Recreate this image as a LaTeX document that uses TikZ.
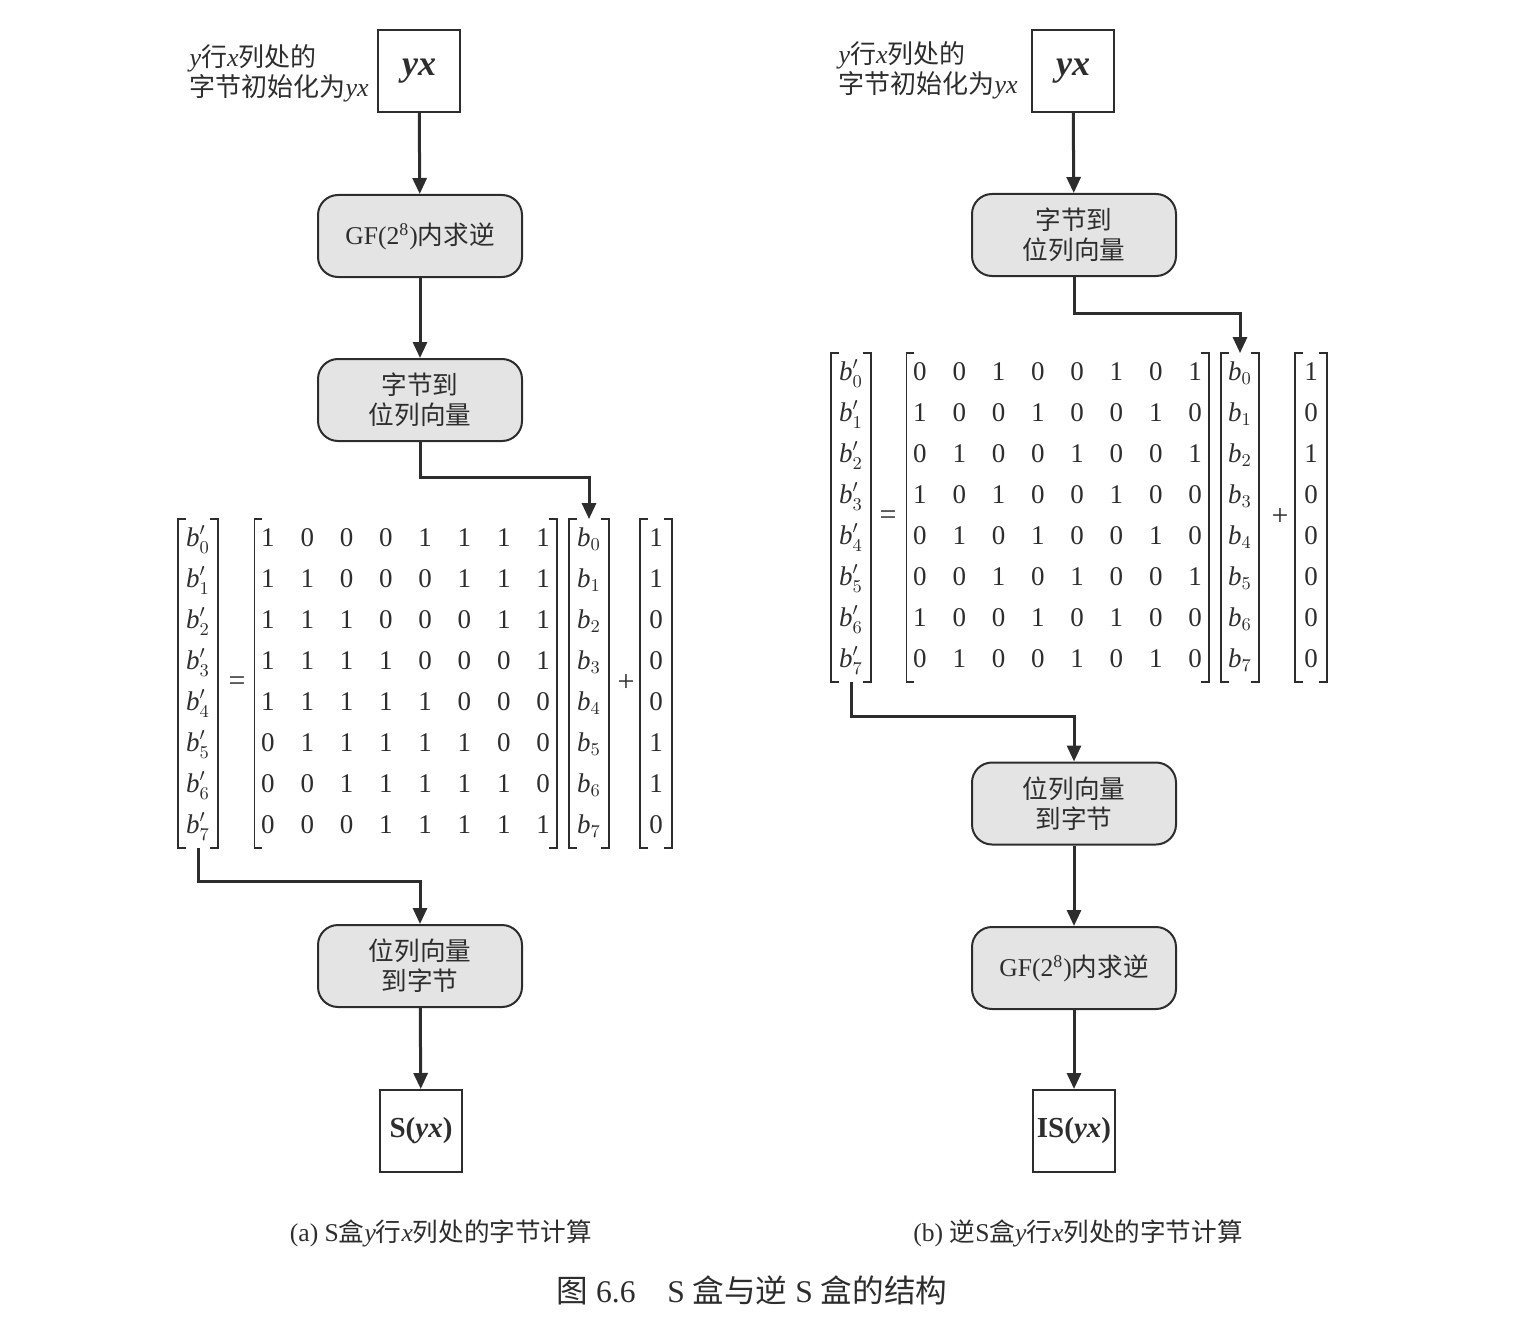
\documentclass[tikz,border=0pt]{standalone}
\usepackage{fontspec}
\setmainfont{Liberation Serif}
\newfontfamily\cjk{Noto Sans CJK SC}
\usetikzlibrary{arrows.meta,matrix,calc}
\definecolor{ink}{RGB}{45,45,45}
\definecolor{boxfill}{RGB}{228,228,228}
\newcommand\ck[1]{{\cjk #1}}
\newcommand\bpr[1]{\textit{b}$'_{#1}$}
\newcommand\bvc[1]{\textit{b}$_{#1}$}
\newcommand\brk[2]{%
  \draw[brl] ([xshift=#2+4pt]#1.north west) -- ([xshift=#2]#1.north west) -- ([xshift=#2]#1.south west) -- ([xshift=#2+4pt]#1.south west);
  \draw[brl] ([xshift=-#2-4pt]#1.north east) -- ([xshift=-#2]#1.north east) -- ([xshift=-#2]#1.south east) -- ([xshift=-#2-4pt]#1.south east);}
\begin{document}
\begin{tikzpicture}[x=0.5pt,y=-0.5pt,
  every node/.append style={text=ink},
  proc/.style={draw=ink, line width=1pt, fill=boxfill, rounded corners=10pt, minimum width=102pt, minimum height=41pt, align=center, font=\fontsize{12.8}{15}\selectfont},
  sqbox/.style={draw=ink, line width=1pt, minimum width=41pt, minimum height=41pt, inner sep=0pt},
  arr/.style={draw=ink, line width=1.5pt, -{Triangle[width=7pt,length=8pt]}},
  brl/.style={draw=ink, line width=0.8pt},
  mat/.style={matrix of nodes, inner sep=0pt, nodes={inner sep=0pt, text height=9pt, text depth=3pt, minimum height=20.5pt, minimum width=19.65pt, anchor=center, font=\fontsize{13.5}{15}\selectfont}},
  lbl/.style={align=left, inner sep=0pt, font=\fontsize{13}{15}\selectfont},
  captxt/.style={inner sep=0pt, font=\fontsize{12.8}{15}\selectfont},
  optxt/.style={inner sep=0pt, font=\fontsize{15}{15}\selectfont}]
\useasboundingbox (0,0) rectangle (1524,1316);

% ---------------- left panel ----------------
\node[sqbox, font=\fontsize{18}{18}\selectfont\bfseries\itshape] (yxL) at (419,71) {yx};
\node[lbl, anchor=east] (labL) at (369,73) {\textit{y}\ck{行}\textit{x}\ck{列处的}\\\ck{字节初始化为}\textit{yx}};
\node[proc] (gfL) at (420,236) {GF(2\textsuperscript{8})\ck{内求逆}};
\node[proc] (b2bL) at (420,400) {\ck{字节到}\\\ck{位列向量}};

\matrix (bpL) [mat] at (198,683.5) {
 \bpr0\\ \bpr1\\ \bpr2\\ \bpr3\\ \bpr4\\ \bpr5\\ \bpr6\\ \bpr7\\};
\node[optxt] (eqL) at (237,683.5) {=};
\matrix (AL) [mat] at (405.5,683.5) {
1&0&0&0&1&1&1&1\\
1&1&0&0&0&1&1&1\\
1&1&1&0&0&0&1&1\\
1&1&1&1&0&0&0&1\\
1&1&1&1&1&0&0&0\\
0&1&1&1&1&1&0&0\\
0&0&1&1&1&1&1&0\\
0&0&0&1&1&1&1&1\\};
\matrix (bL) [mat] at (589,683.5) {
 \bvc0\\ \bvc1\\ \bvc2\\ \bvc3\\ \bvc4\\ \bvc5\\ \bvc6\\ \bvc7\\};
\node[optxt] (plL) at (626,683.5) {+};
\matrix (cL) [mat] at (656,683.5) {
1\\1\\0\\0\\0\\1\\1\\0\\};
\brk{bpL}{0pt}
\brk{AL}{3.2pt}
\brk{bL}{0pt}
\brk{cL}{2pt}

\node[proc] (bt2L) at (420,966) {\ck{位列向量}\\\ck{到字节}};
\node[sqbox, font=\fontsize{14.5}{14.5}\selectfont\bfseries] (sL) at (421,1131) {S(\textit{yx})};

\draw[arr] (yxL) -- (gfL);
\draw[arr] (gfL) -- (b2bL);
\draw[arr] (b2bL.south) -- ++(0,35) -| (bL.north);
\draw[arr] (bpL.south) -- ++(0,34) -| (bt2L.north);
\draw[arr] (bt2L) -- (sL);

\node[captxt] (capA) at (441,1233) {(a) S\ck{盒}\textit{y}\ck{行}\textit{x}\ck{列处的字节计算}};

% ---------------- right panel ----------------
\node[sqbox, font=\fontsize{18}{18}\selectfont\bfseries\itshape] (yxR) at (1073,71) {yx};
\node[lbl, anchor=east] (labR) at (1018,70) {\textit{y}\ck{行}\textit{x}\ck{列处的}\\\ck{字节初始化为}\textit{yx}};
\node[proc] (b2bR) at (1074,235) {\ck{字节到}\\\ck{位列向量}};

\matrix (bpR) [mat] at (851,517.5) {
 \bpr0\\ \bpr1\\ \bpr2\\ \bpr3\\ \bpr4\\ \bpr5\\ \bpr6\\ \bpr7\\};
\node[optxt] (eqR) at (888,517.5) {=};
\matrix (AR) [mat] at (1057.5,517.5) {
0&0&1&0&0&1&0&1\\
1&0&0&1&0&0&1&0\\
0&1&0&0&1&0&0&1\\
1&0&1&0&0&1&0&0\\
0&1&0&1&0&0&1&0\\
0&0&1&0&1&0&0&1\\
1&0&0&1&0&1&0&0\\
0&1&0&0&1&0&1&0\\};
\matrix (bR) [mat] at (1240,517.5) {
 \bvc0\\ \bvc1\\ \bvc2\\ \bvc3\\ \bvc4\\ \bvc5\\ \bvc6\\ \bvc7\\};
\node[optxt] (plR) at (1280,517.5) {+};
\matrix (cR) [mat] at (1311,517.5) {
1\\0\\1\\0\\0\\0\\0\\0\\};
\brk{bpR}{0pt}
\brk{AR}{3.2pt}
\brk{bR}{0.5pt}
\brk{cR}{2pt}

\node[proc] (bt2R) at (1074,803.5) {\ck{位列向量}\\\ck{到字节}};
\node[proc] (gfR) at (1074,968) {GF(2\textsuperscript{8})\ck{内求逆}};
\node[sqbox, font=\fontsize{14.5}{14.5}\selectfont\bfseries] (isR) at (1074,1131) {IS(\textit{yx})};

\draw[arr] (yxR) -- (b2bR);
\draw[arr] (b2bR.south) -- ++(0,36) -| (bR.north);
\draw[arr] (bpR.south) -- ++(0,35) -| (bt2R.north);
\draw[arr] (bt2R) -- (gfR);
\draw[arr] (gfR) -- (isR);

\node[captxt] (capB) at (1078,1233) {(b) \ck{逆}S\ck{盒}\textit{y}\ck{行}\textit{x}\ck{列处的字节计算}};

\node[inner sep=0pt, font=\fontsize{15.8}{18}\selectfont] (fig) at (752,1290) {\ck{图} 6.6\quad S \ck{盒与逆} S \ck{盒的结构}};
\end{tikzpicture}
\end{document}
